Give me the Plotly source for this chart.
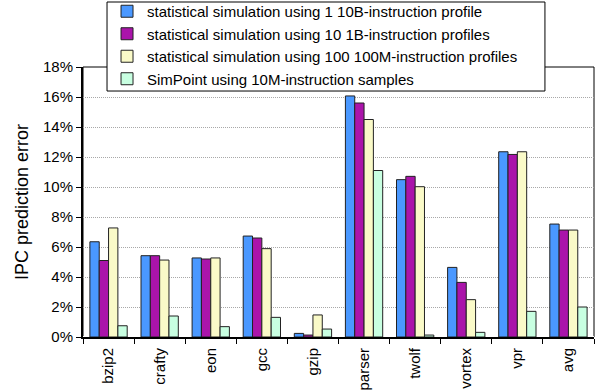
import plotly.graph_objects as go

benchmarks = ["bzip2", "crafty", "eon", "gcc", "gzip", "parser", "twolf", "vortex", "vpr", "avg"]

# IPC prediction error (%) per benchmark
stat_1x10B = [6.35, 5.42, 5.27, 6.73, 0.24, 16.07, 10.49, 4.64, 12.35, 7.53]
stat_10x1B = [5.10, 5.42, 5.20, 6.60, 0.13, 15.60, 10.71, 3.64, 12.17, 7.13]
stat_100x100M = [7.27, 5.13, 5.27, 5.89, 1.47, 14.50, 10.02, 2.49, 12.35, 7.13]
simpoint_10M = [0.75, 1.40, 0.69, 1.31, 0.53, 11.10, 0.13, 0.31, 1.71, 2.00]

series = [
    ("statistical simulation using 1 10B-instruction profile", stat_1x10B, "#4A98FF"),
    ("statistical simulation using 10 1B-instruction profiles", stat_10x1B, "#AA14AA"),
    ("statistical simulation using 100 100M-instruction profiles", stat_100x100M, "#FAFAC8"),
    ("SimPoint using 10M-instruction samples", simpoint_10M, "#C8FFE1"),
]

fig = go.Figure()
for name, vals, color in series:
    fig.add_trace(go.Bar(
        x=benchmarks, y=vals, name=name,
        marker=dict(color=color, line=dict(color="#222222", width=1)),
    ))

font = dict(family="Liberation Sans, Arial, sans-serif", size=15, color="#000000")

fig.update_layout(
    width=598, height=390,
    margin=dict(l=83, r=4, t=67, b=53, autoexpand=False),
    paper_bgcolor="white", plot_bgcolor="white",
    font=font,
    barmode="group", bargap=0.27, bargroupgap=0,
    showlegend=True,
    legend=dict(
        x=0.047, y=1.2667, xanchor="left", yanchor="top",
        bgcolor="rgba(0,0,0,0)", borderwidth=0,
        font=dict(family="Liberation Sans, Arial, sans-serif", size=15),
        itemwidth=30, tracegroupgap=0,
    ),
    xaxis=dict(
        type="category", tickangle=-90, tickson="boundaries",
        ticks="outside", ticklen=5, tickcolor="#000000",
        ticklabelstandoff=3,
        showline=True, linecolor="#000000", linewidth=2, mirror=False,
        showgrid=False,
    ),
    yaxis=dict(
        range=[0, 18], dtick=2, ticksuffix="%",
        ticks="outside", ticklen=5, tickcolor="#000000",
        showline=True, linecolor="#000000", linewidth=2, mirror=False,
        showgrid=True, gridcolor="#A8A8A8", griddash="1px,1px", gridwidth=1,
        title=dict(text="IPC prediction error", standoff=10),
    ),
    shapes=[
        # thin frame around the plotting area
        dict(type="rect", xref="paper", yref="paper", x0=0, y0=0, x1=1, y1=1,
             line=dict(color="#000000", width=1), layer="below"),
        # legend box
        dict(type="rect", xref="paper", yref="paper",
             x0=0.047, x1=0.904, y0=0.911, y1=1.2407,
             fillcolor="white", line=dict(color="#000000", width=1), layer="above"),
    ],
)

fig.write_html("out.html")
